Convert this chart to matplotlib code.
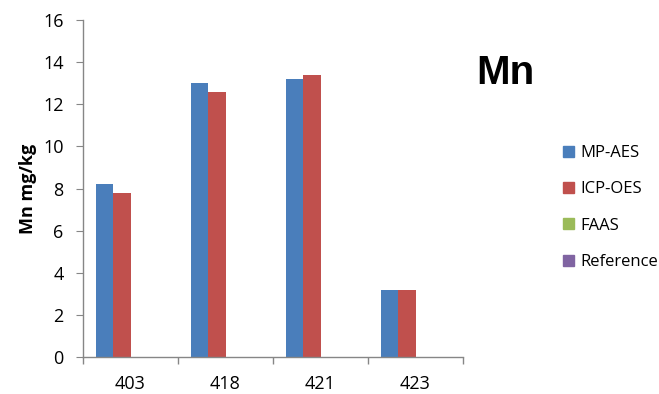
import numpy as np
import matplotlib.pyplot as plt

plt.rcParams['font.family'] = ['Open Sans', 'DejaVu Sans']

samples = ["403", "418", "421", "423"]
series_names = ["MP-AES", "ICP-OES", "FAAS", "Reference"]
mp_aes = [8.2, 13.0, 13.2, 3.2]
icp_oes = [7.8, 12.6, 13.4, 3.2]
faas = [0, 0, 0, 0]
reference = [0, 0, 0, 0]
colors = ["#4a7ebb", "#c0504d", "#9bbb59", "#8064a2"]

values = [mp_aes, icp_oes, faas, reference]

W, H = 659, 394
fig = plt.figure(figsize=(W / 100, H / 100), dpi=100)
ax = fig.add_axes([83 / W, 37 / H, 380 / W, 337 / H])

x = np.arange(len(samples))
n = len(series_names)
gap = 1.5
w = 1.0 / (n + gap)
for i, (name, vals, c) in enumerate(zip(series_names, values, colors)):
    offs = -0.5 + gap * w / 2 + (i + 0.5) * w
    ax.bar(x + offs, vals, width=w, color=c, label=name, edgecolor='none')

ax.set_xlim(-0.5, len(samples) - 0.5)
ax.set_ylim(0, 16)
ax.set_yticks(range(0, 17, 2))
ax.set_xticks(x)
ax.set_xticklabels(samples, fontsize=13)
ax.set_xticks(np.arange(-0.5, len(samples), 1), minor=True)
ax.tick_params(axis='x', which='major', length=0, pad=13)
ax.tick_params(axis='x', which='minor', length=5, color='#868686', width=1)
ax.tick_params(axis='y', length=5, color='#868686', labelsize=13, pad=9)

for side in ['top', 'right']:
    ax.spines[side].set_visible(False)
for side in ['left', 'bottom']:
    ax.spines[side].set_color('#868686')
    ax.spines[side].set_linewidth(1)

ax.set_ylabel("Mn mg/kg", fontsize=13, fontweight='bold')
ax.yaxis.set_label_coords(-(83 - 37) / 380, 0.5)

fig.text(505 / W, 1 - 73 / H, "Mn", fontsize=29, fontweight='bold',
         family='Liberation Sans', ha='center', va='center')

handles = [plt.Rectangle((0, 0), 1, 1, color=c) for c in colors]
fig.legend(handles, series_names, loc='upper left',
           bbox_to_anchor=(548 / W, 1 - 130 / H), frameon=False,
           fontsize=12, handlelength=0.65, handleheight=0.65,
           handletextpad=0.4, labelspacing=1.22)

fig.savefig("out.png", dpi=100)
